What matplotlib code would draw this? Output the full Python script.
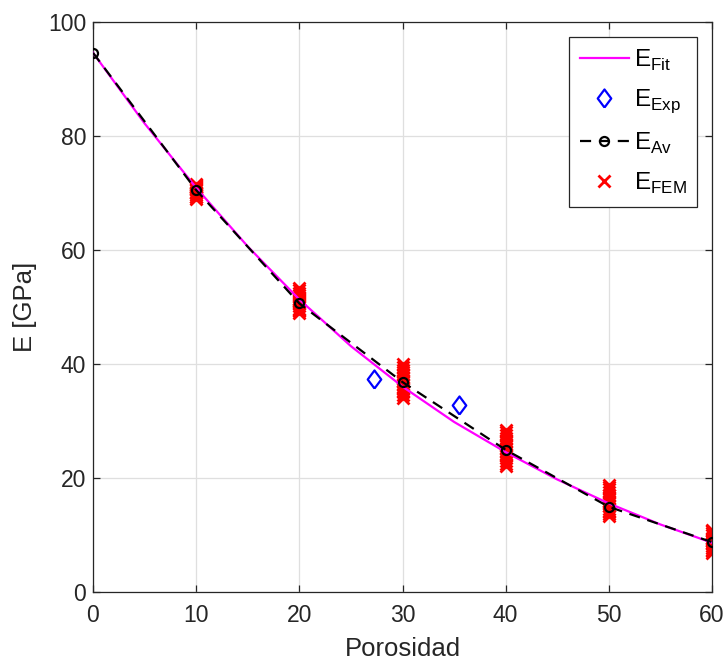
import matplotlib
matplotlib.use("Agg")
import matplotlib.pyplot as plt
import numpy as np

plt.rcParams['font.family'] = ['Liberation Sans', 'DejaVu Sans']
plt.rcParams['mathtext.fontset'] = 'custom'
plt.rcParams['mathtext.rm'] = 'Liberation Sans'

# porosity levels (%)
porosity = [0, 10, 20, 30, 40, 50, 60]
# averaged FEM modulus
e_avg = [94.6, 70.5, 50.6, 36.8, 24.9, 14.9, 8.7]

# fitted curve
fit_p = [0, 5, 10, 15, 20, 25, 30, 35, 40, 45, 50, 55, 60]
fit_e = [94.6, 82.2, 70.9, 60.6, 51.3, 43.1, 36.0, 29.8, 24.5, 19.7, 15.5, 11.8, 8.6]

# experimental points
exp_p = [27.2, 35.5]
exp_e = [37.4, 32.8]

# individual FEM results per porosity level
fem_10 = [69.0, 69.3, 69.6, 69.9, 70.2, 70.5, 70.8, 71.1, 71.4, 71.6, 69.2, 70.0, 70.7, 71.3]
fem_20 = [48.9, 49.3, 49.7, 50.1, 50.5, 50.9, 51.3, 51.7, 52.1, 52.5, 52.9, 53.3, 49.5, 51.0]
fem_30 = [34.0, 34.5, 35.0, 35.5, 36.0, 36.5, 37.0, 37.5, 38.0, 38.5, 39.0, 39.5, 40.0, 35.2]
fem_40 = [22.0, 22.5, 23.0, 23.5, 24.0, 24.5, 25.0, 25.5, 26.0, 26.5, 27.0, 27.5, 28.0, 28.4]
fem_50 = [13.2, 13.6, 14.0, 14.5, 15.0, 15.5, 16.0, 16.5, 17.0, 17.5, 18.0, 18.4, 18.8, 14.2]
fem_60 = [6.8, 7.1, 7.4, 7.7, 8.0, 8.3, 8.6, 8.9, 9.2, 9.5, 9.9, 10.3, 10.7, 10.9]
fem_groups = {10: fem_10, 20: fem_20, 30: fem_30, 40: fem_40, 50: fem_50, 60: fem_60}

fem_x = []
fem_y = []
for p, vals in fem_groups.items():
    fem_x += [p] * len(vals)
    fem_y += vals

dark = '#262626'
fig = plt.figure(figsize=(7.26, 6.63), dpi=100)
ax = fig.add_axes([93 / 726, 1 - 591.7 / 663, (712 - 93) / 726, (591.7 - 22) / 663])

diamond = [(0, -1), (0.75, 0), (0, 1), (-0.75, 0), (0, -1)]

h_fem, = ax.plot(fem_x, fem_y, 'x', color='#ff0000', markersize=8.5, mew=2,
                 linestyle='none', zorder=2)
h_fit, = ax.plot(fit_p, fit_e, '-', color='#ff00ff', lw=1.6, zorder=3)
h_exp, = ax.plot(exp_p, exp_e, linestyle='none', marker=diamond, markersize=13,
                 mfc='none', mec='#0000ff', mew=1.6, zorder=3)
h_av, = ax.plot(porosity, e_avg, '--o', color='black', lw=1.6, dashes=(5, 3.5),
                markersize=6.5, mfc='none', mew=1.6, zorder=4)

ax.set_xlim(0, 60)
ax.set_ylim(0, 100)
ax.set_xticks(range(0, 61, 10))
ax.set_yticks(range(0, 101, 20))
ax.grid(True, color='#dfdfdf', lw=0.9)
ax.set_axisbelow(True)
for s in ax.spines.values():
    s.set_color(dark)
    s.set_linewidth(0.9)
ax.tick_params(direction='in', length=5, width=0.9, colors=dark, labelsize=16.5,
               top=True, right=True)
ax.tick_params(axis='x', pad=9)
ax.tick_params(axis='y', pad=5)

ax.set_xlabel('Porosidad', fontsize=18.5, color=dark, labelpad=7)
ax.set_ylabel('E [GPa]', fontsize=18.5, color=dark, labelpad=8)

leg = ax.legend([h_fit, h_exp, h_av, h_fem],
                [r'E$_{\mathrm{Fit}}$', r'E$_{\mathrm{Exp}}$', r'E$_{\mathrm{Av}}$', r'E$_{\mathrm{FEM}}$'],
                loc='upper right', fontsize=17.5, fancybox=False, framealpha=1,
                edgecolor=dark, borderaxespad=0.6, handlelength=2.0,
                labelspacing=0.62, handletextpad=0.2, borderpad=0.45)
leg.get_frame().set_linewidth(0.9)

fig.savefig('out.png', dpi=100)
